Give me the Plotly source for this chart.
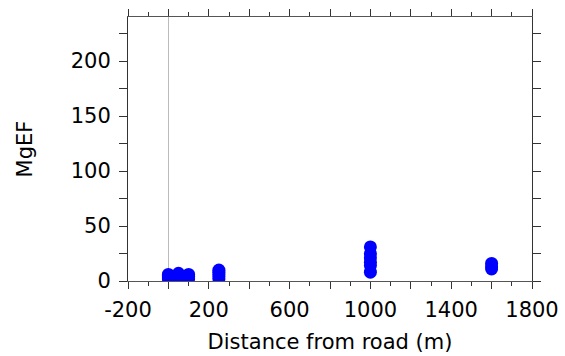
import plotly.graph_objects as go

# Distance from road (m) and MgEF values for each sample
distance = [0, 0, 0, 0, 0,
            50, 50, 50,
            100, 100, 100,
            250, 250, 250, 250, 250,
            1000, 1000, 1000, 1000, 1000, 1000,
            1600, 1600, 1600]
mgef = [2, 3, 4, 5, 6,
        3, 5, 7,
        2, 4, 6,
        2, 4, 6, 8, 10,
        8, 14, 17, 21, 25, 31,
        11, 13, 16]

x_tickvals = [-200, 0, 200, 400, 600, 800, 1000, 1200, 1400, 1600, 1800]
x_ticktext = ["-200", "", "200", "", "600", "", "1000", "", "1400", "", "1800"]
y_tickvals = [0, 50, 100, 150, 200]
y_ticktext = ["0", "50", "100", "150", "200"]

font = dict(family="DejaVu Sans, Verdana, sans-serif", size=21, color="black")

fig = go.Figure(
    go.Scatter(
        x=distance, y=mgef, mode="markers",
        marker=dict(color="#0000FF", size=13, line=dict(width=0)),
    )
)

fig.update_layout(
    width=565, height=356,
    margin=dict(l=128, r=33, t=17, b=75),
    paper_bgcolor="white", plot_bgcolor="white",
    showlegend=False, font=font,
)

fig.update_xaxes(
    range=[-200, 1800], tickmode="array", tickvals=x_tickvals, ticktext=x_ticktext,
    ticks="outside", ticklen=7, tickcolor="#333", tickwidth=1,
    minor=dict(dtick=100, tick0=0, ticks="outside", ticklen=4, tickcolor="#333"),
    showline=True, linecolor="#555", linewidth=1, mirror="ticks",
    showgrid=False, zeroline=True, zerolinecolor="#BBBBBB", zerolinewidth=1,
    ticklabelstandoff=3, automargin=False,
    title=dict(text="Distance from road (m)", standoff=13, font=font),
    tickfont=font,
)
fig.update_yaxes(
    range=[0, 240], tickmode="array", tickvals=y_tickvals, ticktext=y_ticktext,
    ticks="outside", ticklen=8, tickcolor="#333", tickwidth=1,
    minor=dict(dtick=25, tick0=0, ticks="outside", ticklen=8, tickcolor="#333"),
    showline=True, linecolor="#333", linewidth=1, mirror="ticks",
    showgrid=False, zeroline=False,
    ticklabelstandoff=4, automargin=False,
    title=dict(text="MgEF", standoff=32, font=font),
    tickfont=font,
)

fig.write_html("out.html")
